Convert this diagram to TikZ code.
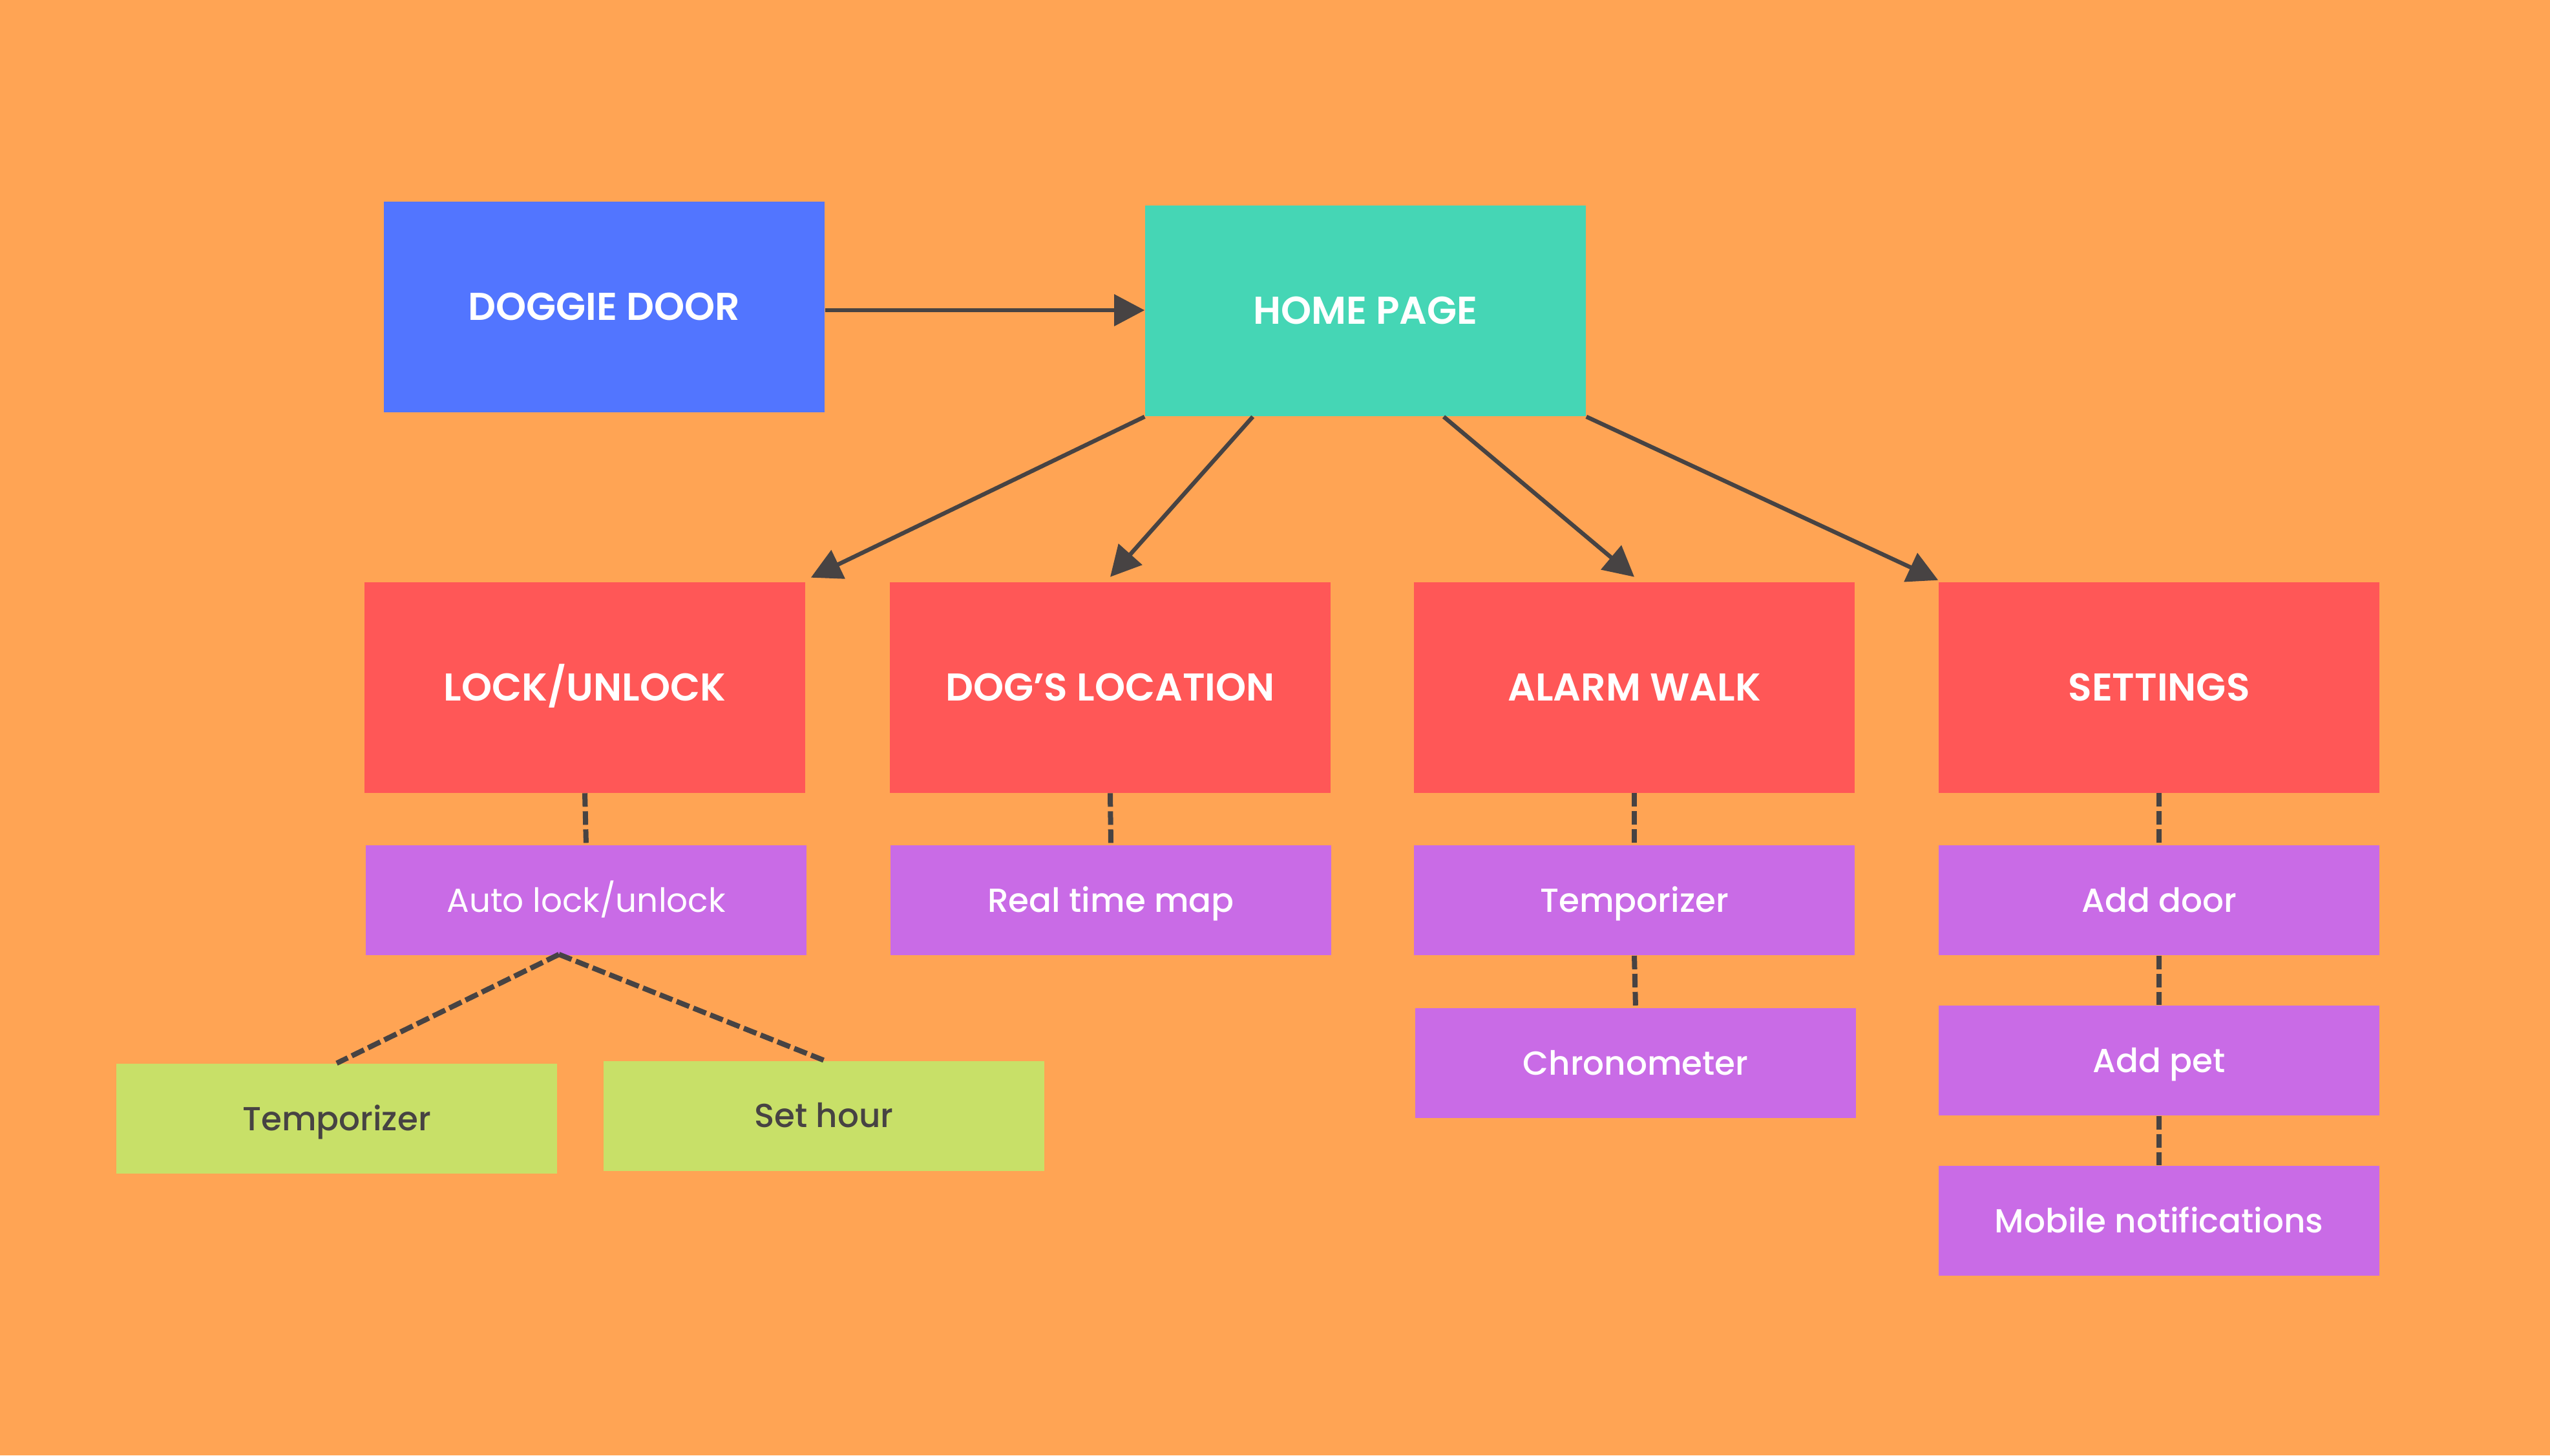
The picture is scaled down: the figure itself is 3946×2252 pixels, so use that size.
\documentclass[tikz,border=0pt]{standalone}
\usepackage{fontspec}
\setmainfont{Poppins}
\newfontfamily\popsemi{Poppins SemiBold}
\newfontfamily\popmed{Poppins Medium}
\usetikzlibrary{arrows.meta,calc}
\definecolor{bgorange}{HTML}{FFA454}
\definecolor{doorblue}{HTML}{5275FF}
\definecolor{hometeal}{HTML}{45D6B5}
\definecolor{mainred}{HTML}{FF5757}
\definecolor{subpurple}{HTML}{C96BE6}
\definecolor{leafgreen}{HTML}{C8E068}
\definecolor{inkgray}{HTML}{474343}
\begin{document}
\begin{tikzpicture}[x=0.25pt,y=-0.25pt,
  bigbox/.style={inner sep=0pt, minimum width=170.5pt, minimum height=81.5pt,
    text=white, font=\popsemi\fontsize{15}{18}\selectfont, text height=10.4pt, text depth=0pt},
  smallbox/.style={inner sep=0pt, minimum width=170.5pt, minimum height=42.5pt,
    fill=subpurple, text=white, font=\popmed\fontsize{12.9}{15}\selectfont, text height=9pt, text depth=0pt},
  leafbox/.style={smallbox, fill=leafgreen, text=inkgray},
  arr/.style={draw=inkgray, line width=1.6pt, -{Triangle[length=11.75pt,width=12pt]}},
  dashlink/.style={draw=inkgray, line width=2pt, dash pattern=on 5.25pt off 1.75pt}]
  \fill[bgorange] (0,0) rectangle (3946,2252);
  \useasboundingbox (0,0) rectangle (3946,2252);

  % top row
  \node[bigbox, fill=doorblue] (door) at (935,475) {DOGGIE DOOR};
  \node[bigbox, fill=hometeal] (home) at (2113,481) {HOME PAGE};

  % main sections
  \node[bigbox, fill=mainred] (lock) at (905,1063.5) {LOCK/UNLOCK};
  \node[bigbox, fill=mainred] (loc) at (1718,1063.5) {DOG’S LOCATION};
  \node[bigbox, fill=mainred] (alarm) at (2529,1063.5) {ALARM WALK};
  \node[bigbox, fill=mainred] (settings) at (3341,1063.5) {SETTINGS};

  % features
  \node[smallbox, font=\fontsize{12.9}{15}\selectfont] (auto) at (907,1393) {Auto lock/unlock};
  \node[smallbox] (map) at (1719,1393) {Real time map};
  \node[smallbox] (temp) at (2529,1393) {Temporizer};
  \node[smallbox] (chrono) at (2531,1645) {Chronometer};
  \node[smallbox] (adddoor) at (3341,1393) {Add door};
  \node[smallbox] (addpet) at (3341,1641) {Add pet};
  \node[smallbox] (mobile) at (3341,1889) {Mobile notifications};

  % auto lock options
  \node[leafbox] (tempg) at (521,1731) {Temporizer};
  \node[leafbox] (sethour) at (1275,1726.5) {Set hour};

  % arrows
  \draw[arr] ($(door.east)+(0,5)$) -- ($(door.east -| home.west)+(0,5)$);
  \draw[arr] (home.south west) -- ($(lock.north east)+(8,-6)$);
  \draw[arr] ($(home.south west)!0.245!(home.south east)$) -- ($(loc.north)+(0,-7)$);
  \draw[arr] ($(home.south west)!0.677!(home.south east)$) -- ($(alarm.north)+(0,-7)$);
  \draw[arr] (home.south east) -- ($(settings.north west)+(0,-2)$);

  % dashed links
  \draw[dashlink] (lock.south) -- (auto.north);
  \draw[dashlink] (loc.south) -- (map.north);
  \draw[dashlink] (alarm.south) -- (temp.north);
  \draw[dashlink] (temp.south) -- (chrono.north);
  \draw[dashlink] (settings.south) -- (adddoor.north);
  \draw[dashlink] (adddoor.south) -- (addpet.north);
  \draw[dashlink] (addpet.south) -- (mobile.north);
  \coordinate (fork) at ($(auto.south)+(-42,-2)$);
  \draw[dashlink] (fork) -- (tempg.north);
  \draw[dashlink] (fork) -- (sethour.north);
\end{tikzpicture}
\end{document}
